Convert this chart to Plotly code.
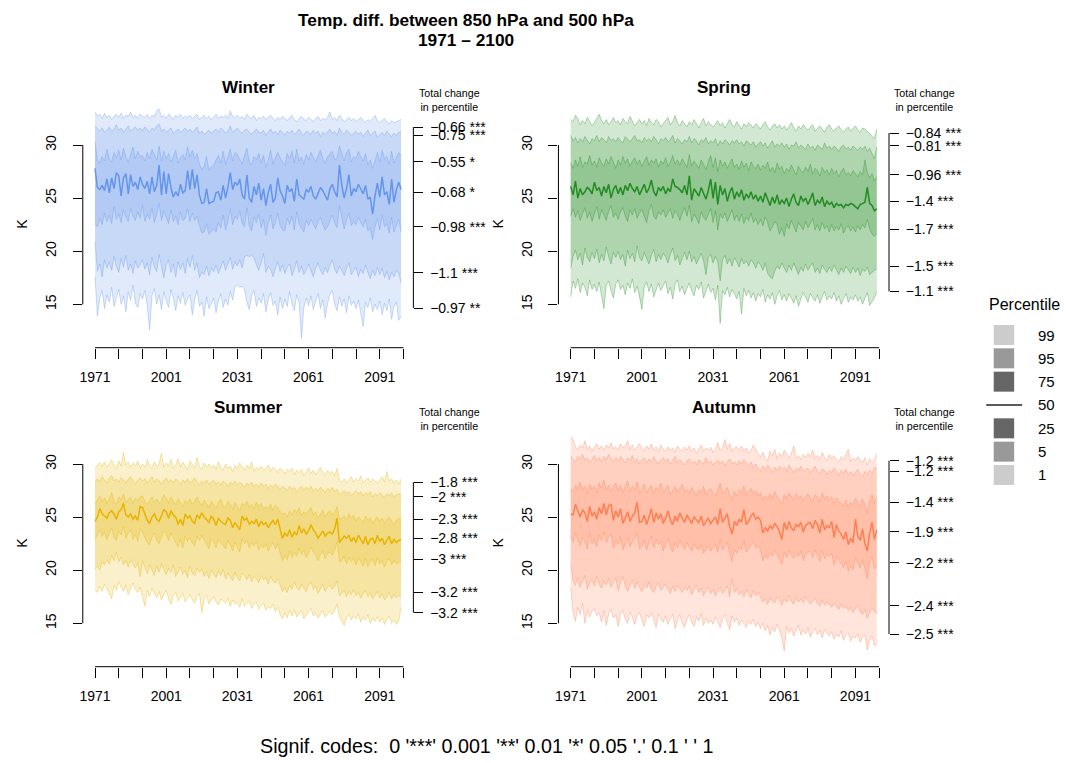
import plotly.graph_objects as go

years = list(range(1971, 2101))

# ---------------- Winter ----------------
winter_p99 = [33.1, 32.7, 32.9, 32.5, 33.0, 32.6, 32.8, 32.4, 32.7, 32.9,
              32.6, 33.0, 32.5, 32.8, 32.7, 33.1, 32.6, 32.8, 32.5, 32.9,
              32.7, 32.6, 32.9, 32.5, 32.8, 32.7, 33.2, 33.4, 32.6, 32.8,
              32.5, 32.9, 32.7, 32.4, 32.8, 32.6, 32.9, 32.5, 32.7, 32.6,
              32.8, 32.5, 32.7, 32.9, 32.4, 32.6, 32.8, 32.5, 32.7, 32.4,
              32.6, 32.9, 32.5, 32.7, 32.6, 32.8, 32.5, 33.2, 32.7, 32.6,
              32.8, 32.5, 32.7, 32.4, 32.9, 32.6, 32.5, 32.8, 32.3, 32.6,
              32.5, 32.7, 32.4, 32.6, 32.8, 32.5, 32.3, 32.6, 32.4, 32.7,
              32.5, 32.3, 32.6, 32.8, 32.4, 32.2, 32.5, 32.7, 32.4, 32.3,
              32.6, 32.4, 32.2, 32.5, 32.7, 32.3, 32.5, 32.4, 32.6, 33.1,
              32.4, 32.6, 32.3, 32.8, 32.5, 32.2, 32.4, 32.6, 32.3, 32.5,
              32.2, 32.4, 32.6, 32.3, 32.1, 32.4, 32.2, 32.5, 32.8, 32.3,
              32.1, 32.3, 32.5, 32.2, 32.0, 32.3, 32.1, 32.2, 32.3, 32.4]
winter_p95 = [31.8, 31.5, 31.3, 31.6, 31.2, 31.4, 31.7, 31.3, 31.5, 31.9,
              31.4, 31.6, 31.2, 31.5, 31.8, 31.3, 31.5, 31.7, 31.4, 31.6,
              31.3, 31.7, 31.5, 31.2, 31.6, 31.4, 31.8, 32.0, 31.3, 31.5,
              31.2, 31.4, 31.6, 31.1, 31.3, 31.5, 31.2, 31.4, 31.6, 31.3,
              31.5, 31.2, 31.4, 31.7, 31.1, 31.3, 31.0, 31.2, 31.4, 31.1,
              31.3, 31.5, 31.2, 31.6, 31.4, 31.1, 31.3, 31.8, 31.2, 31.4,
              31.6, 31.3, 31.1, 31.4, 31.5, 31.2, 31.0, 31.3, 31.5, 31.2,
              31.1, 31.4, 30.9, 31.2, 31.5, 31.1, 31.3, 31.0, 31.4, 31.2,
              30.9, 31.3, 31.1, 31.4, 31.0, 31.2, 31.5, 31.1, 30.9, 31.3,
              31.2, 31.0, 31.4, 31.1, 31.3, 30.8, 31.2, 31.0, 31.3, 31.5,
              31.1, 31.3, 30.9, 31.6, 31.2, 31.0, 31.4, 31.2, 30.9, 31.1,
              31.3, 31.0, 31.2, 30.8, 31.1, 31.4, 30.9, 31.1, 31.3, 30.7,
              31.0, 31.2, 30.9, 31.3, 31.0, 30.8, 31.1, 30.9, 31.2, 31.3]
winter_p75 = [30.3, 28.6, 28.3, 28.9, 28.5, 29.6, 28.7, 28.4, 29.3, 28.8,
              29.5, 28.6, 29.7, 28.9, 28.4, 29.1, 29.8, 28.7, 29.4, 28.9,
              29.0, 28.5, 29.3, 28.7, 29.6, 29.1, 28.6, 29.9, 28.5, 29.4,
              28.7, 29.2, 28.4, 28.9, 29.5, 28.3, 28.8, 29.1, 28.6, 29.8,
              28.9, 29.5, 28.7, 29.2, 28.2, 27.7, 28.0, 28.9, 27.6, 27.9,
              28.1, 28.6, 29.0, 28.3, 29.4, 28.2, 28.8, 29.6, 28.5, 29.3,
              29.1, 28.7, 28.2, 29.0, 29.7, 28.4, 28.1, 28.9, 28.6, 29.2,
              28.3, 29.0, 27.9, 28.6, 29.5, 28.2, 28.7, 29.3, 28.8, 28.4,
              28.1, 29.2, 28.7, 29.4, 28.3, 29.6, 28.5, 28.9, 28.2, 29.1,
              28.6, 29.3, 28.8, 28.4, 29.0, 29.5, 28.7, 28.3, 28.9, 29.2,
              29.4, 28.6, 28.8, 29.9, 29.1, 28.5, 29.3, 29.6, 28.4, 28.9,
              28.7, 29.4, 28.9, 28.5, 29.2, 28.1, 28.6, 27.8, 28.5, 29.3,
              28.4, 29.5, 28.7, 28.9, 28.2, 29.4, 28.3, 28.8, 29.3, 29.0]
winter_p50 = [27.8, 26.0, 25.8, 26.2, 25.7, 26.8, 25.5, 26.9, 25.9, 27.4,
              27.1, 25.2, 26.9, 27.3, 25.4, 27.2, 26.1, 26.5, 25.8, 27.0,
              26.3, 25.9, 26.6, 25.4, 27.0, 25.6, 26.2, 28.1, 25.3, 27.5,
              25.4, 27.3, 26.0, 25.1, 25.6, 25.2, 26.3, 25.5, 25.7, 27.6,
              25.8, 27.7, 25.9, 27.2, 25.3, 24.5, 24.6, 25.9, 24.5, 24.6,
              24.7, 25.5, 25.6, 24.8, 26.2, 25.0, 26.0, 27.4, 25.8, 26.5,
              26.2, 26.8, 25.3, 24.9, 27.2, 25.0, 24.6, 26.1, 25.3, 26.4,
              24.8, 25.9, 24.3, 25.5, 26.3, 24.6, 25.0, 26.9, 25.7, 25.2,
              24.5, 26.2, 25.6, 25.9, 24.7, 26.8, 25.3, 25.1, 24.9, 25.8,
              25.6, 26.1, 25.2, 24.9, 25.4, 26.0, 25.7, 25.3, 24.8, 25.9,
              26.3, 25.6, 25.1, 28.1, 26.2, 25.0, 25.9, 27.2, 25.2, 25.9,
              25.6, 26.3, 25.8, 25.4, 26.2, 24.9, 25.1, 23.5, 25.2, 26.4,
              25.1, 27.0, 25.3, 25.6, 24.4, 26.8, 24.6, 25.8, 26.5, 25.8]
winter_p25 = [22.6, 22.3, 23.1, 22.5, 23.6, 22.8, 23.4, 22.6, 24.2, 23.0,
              23.5, 22.7, 23.9, 23.2, 22.8, 24.0, 23.3, 22.9, 23.7, 23.1,
              24.3, 22.8, 23.5, 23.0, 24.1, 22.7, 23.4, 24.5, 22.9, 23.8,
              23.2, 22.6, 23.9, 22.8, 23.3, 22.5, 23.7, 22.9, 23.1, 24.0,
              22.8, 23.6, 22.9, 23.3, 22.4, 21.7, 21.8, 22.6, 21.6, 21.9,
              22.1, 21.8, 22.7, 22.2, 23.4, 22.0, 22.8, 24.0, 22.5, 23.3,
              23.0, 23.8, 22.6, 22.3, 24.1, 22.4, 21.9, 23.2, 22.7, 23.5,
              22.2, 23.0, 21.5, 22.6, 23.4, 22.1, 22.7, 23.6, 22.4, 22.0,
              21.9, 23.1, 22.5, 23.3, 22.0, 23.7, 22.6, 22.2, 21.8, 22.9,
              22.4, 23.0, 22.6, 22.1, 22.8, 23.2, 22.5, 22.0, 22.3, 22.9,
              23.4, 22.7, 22.2, 24.3, 23.0, 22.1, 22.9, 23.6, 22.4, 22.8,
              22.5, 23.2, 22.7, 22.3, 23.0, 21.9, 22.2, 21.1, 22.3, 23.1,
              22.0, 23.4, 22.3, 22.6, 21.7, 23.2, 21.8, 22.5, 23.0, 21.8]
winter_p05 = [20.9, 18.1, 18.8, 17.6, 19.2, 18.4, 19.0, 18.2, 19.5, 18.6,
              18.0, 19.3, 18.5, 19.6, 18.2, 18.8, 17.9, 19.1, 18.4, 18.7,
              19.2, 18.3, 18.9, 17.8, 19.4, 18.5, 18.1, 19.7, 18.6, 17.5,
              18.7, 19.2, 18.0, 18.8, 17.6, 19.0, 18.3, 18.9, 17.9, 19.3,
              18.5, 19.6, 18.2, 18.9, 17.5, 18.0, 17.8, 18.6, 17.7, 18.4,
              18.1, 18.7, 17.9, 18.5, 19.1, 18.2, 18.8, 19.4, 18.3, 19.0,
              18.6, 19.2, 18.4, 19.5, 19.6, 19.5, 19.6, 19.4, 18.7, 18.2,
              18.9, 19.8, 18.0, 18.6, 18.3, 17.6, 18.4, 19.0, 18.1, 18.7,
              17.9, 18.5, 18.8, 17.7, 18.3, 19.1, 18.0, 18.6, 17.8, 18.2,
              18.8, 18.1, 17.6, 18.4, 18.9, 18.2, 17.8, 18.5, 18.0, 18.7,
              19.2, 18.3, 17.9, 18.6, 18.1, 17.7, 18.4, 18.9, 17.8, 18.2,
              18.5, 17.6, 18.3, 17.9, 18.7, 18.0, 17.4, 18.2, 17.7, 18.5,
              17.8, 18.4, 17.5, 18.1, 17.3, 18.0, 17.6, 18.2, 17.9, 17.0]
winter_p01 = [17.6, 13.9, 15.6, 16.3, 14.6, 15.9, 15.2, 16.6, 14.8, 15.7,
              16.4, 15.0, 15.8, 14.3, 16.2, 15.4, 16.8, 15.1, 14.7, 16.0,
              15.5, 16.3, 14.9, 12.6, 15.8, 16.5, 15.0, 15.9, 14.5, 16.2,
              15.3, 14.7, 16.4, 15.6, 14.4, 15.8, 15.1, 16.1, 14.9, 15.5,
              15.9, 14.0, 15.4, 16.3, 14.8, 15.2, 13.9, 15.7, 14.6, 15.0,
              15.6, 14.2, 15.3, 16.0, 14.7, 15.5, 14.9, 16.2, 15.4, 16.7,
              16.8, 16.6, 16.7, 16.4, 15.2, 14.5, 15.8, 16.3, 14.8, 15.6,
              15.1, 16.0, 14.3, 15.4, 16.1, 14.9, 15.3, 14.0, 15.7, 14.6,
              15.5, 14.8, 16.2, 15.0, 14.4, 15.9, 15.2, 11.8, 14.7, 15.6,
              14.9, 15.8, 14.5, 15.3, 16.0, 14.6, 15.4, 13.7, 15.1, 15.9,
              16.3, 15.0, 14.4, 15.7, 14.8, 15.5, 14.2, 15.8, 14.9, 15.3,
              14.6, 15.4, 14.1, 12.9, 15.2, 14.7, 15.6, 14.3, 15.0, 14.5,
              15.3, 14.0, 15.1, 14.4, 15.5, 13.6, 14.8, 15.2, 13.5, 13.9]

# ---------------- Spring ----------------
spring_p99 = [32.4, 32.2, 32.8, 32.5, 31.9, 32.3, 32.0, 32.6, 32.2, 31.8,
              32.1, 32.5, 32.9, 32.3, 32.0, 32.4, 31.9, 32.2, 32.6, 32.1,
              32.3, 31.9, 32.5, 32.2, 32.0, 32.7, 32.3, 31.8, 32.1, 32.4,
              32.0, 32.3, 31.8, 32.5, 32.1, 31.9, 32.4, 32.2, 31.7, 32.0,
              32.3, 32.6, 31.9, 32.2, 32.8, 32.1, 31.8, 32.3, 32.0, 31.7,
              32.2, 31.9, 32.4, 32.0, 31.6, 32.1, 32.5, 31.8, 32.2, 31.9,
              31.7, 32.0, 32.3, 31.8, 32.1, 31.6, 32.0, 32.4, 31.9, 31.7,
              32.2, 31.8, 31.5, 32.0, 31.7, 32.1, 31.9, 31.6, 32.0, 31.8,
              31.5, 31.9, 32.2, 31.7, 31.4, 31.8, 32.0, 31.6, 31.9, 31.5,
              31.8, 31.4, 31.7, 32.1, 31.6, 31.3, 31.8, 31.5, 31.9, 31.6,
              31.4, 31.7, 31.9, 31.3, 31.6, 31.8, 31.5, 31.2, 31.7, 31.9,
              31.5, 31.3, 31.6, 31.8, 31.4, 31.2, 31.5, 31.7, 31.3, 31.6,
              31.8, 31.4, 31.2, 31.6, 31.5, 31.3, 31.1, 30.8, 30.6, 31.5]
spring_p95 = [30.9, 30.4, 30.7, 30.2, 30.6, 30.3, 30.8, 30.5, 30.1, 30.6,
              30.4, 30.9, 30.3, 30.7, 30.5, 30.2, 30.8, 30.4, 30.6, 30.3,
              30.7, 30.4, 30.2, 30.8, 30.5, 30.3, 30.6, 30.9, 30.4, 30.5,
              30.2, 30.7, 30.4, 30.6, 30.3, 30.8, 30.5, 30.1, 30.6, 30.4,
              30.7, 30.3, 30.5, 30.9, 30.2, 30.6, 30.4, 30.1, 30.5, 30.3,
              30.8, 30.2, 30.6, 30.4, 30.0, 30.5, 30.3, 30.7, 30.1, 30.4,
              30.2, 30.6, 29.9, 30.4, 30.1, 30.5, 30.3, 30.0, 30.4, 30.2,
              30.5, 30.1, 30.3, 29.9, 30.4, 30.2, 30.0, 30.3, 29.8, 30.1,
              30.3, 29.9, 30.2, 29.7, 30.0, 30.4, 29.8, 30.1, 29.9, 30.2,
              29.8, 30.1, 29.6, 30.0, 29.9, 30.3, 29.7, 30.0, 29.8, 29.6,
              30.1, 29.7, 29.9, 29.5, 30.0, 29.8, 29.6, 30.2, 29.7, 29.9,
              29.6, 29.9, 29.7, 29.4, 29.8, 30.0, 29.6, 29.8, 29.5, 29.9,
              29.7, 29.5, 29.8, 29.6, 29.9, 29.4, 29.7, 29.2, 28.7, 29.8]
spring_p75 = [28.3, 27.8, 28.6, 28.0, 28.9, 27.9, 28.4, 28.2, 29.0, 28.1,
              28.5, 27.9, 28.8, 28.3, 28.0, 28.7, 28.2, 28.9, 28.4, 27.8,
              28.6, 28.1, 28.9, 28.3, 28.7, 28.0, 28.5, 28.8, 28.2, 28.6,
              28.0, 28.4, 28.9, 28.1, 28.6, 28.3, 28.7, 27.9, 28.5, 28.2,
              28.8, 28.0, 28.4, 29.0, 28.2, 28.6, 28.1, 28.7, 28.3, 27.9,
              29.1, 28.0, 28.5, 28.2, 27.8, 28.6, 28.1, 27.7, 28.4, 29.0,
              27.9, 28.8, 27.5, 28.6, 28.0, 28.4, 27.8, 28.3, 28.7, 27.9,
              28.2, 27.7, 28.5, 27.9, 28.3, 27.6, 28.4, 28.0, 27.8, 28.2,
              27.6, 28.1, 27.8, 28.4, 27.5, 27.9, 27.4, 28.3, 27.7, 28.0,
              27.3, 27.8, 27.5, 28.1, 27.7, 27.2, 28.0, 27.6, 27.4, 27.9,
              27.5, 28.2, 27.3, 27.8, 27.6, 27.1, 27.9, 27.4, 27.7, 27.2,
              27.8, 27.3, 27.6, 27.0, 27.5, 27.8, 27.2, 27.4, 27.1, 27.6,
              27.3, 27.0, 27.5, 27.2, 28.6, 27.4, 26.9, 27.3, 26.6, 27.0]
spring_p50 = [26.1, 25.3, 26.6, 25.0, 25.9, 25.3, 25.6, 26.0, 25.8, 25.4,
              26.5, 25.7, 26.0, 25.2, 26.1, 25.5, 26.3, 25.0, 25.8, 26.2,
              25.4, 26.0, 25.3, 26.2, 25.7, 26.4, 25.9, 25.6, 26.1, 25.3,
              25.8, 26.3, 25.5, 25.9, 26.7, 25.6, 25.2, 26.0, 25.7, 26.1,
              25.4, 25.9, 25.6, 26.8, 26.1, 26.0, 25.8, 25.5, 26.2, 25.3,
              27.1, 24.8, 25.9, 25.6, 25.2, 26.0, 25.4, 24.9, 25.7, 26.8,
              25.0, 26.5, 24.4, 26.2, 25.3, 25.9, 24.7, 25.5, 26.0, 24.9,
              25.6, 25.1, 25.8, 24.8, 25.4, 25.0, 25.6, 24.9, 25.3, 24.7,
              25.2, 24.6, 25.5, 24.9, 24.3, 25.1, 24.5, 25.3, 24.4, 24.8,
              24.5, 25.0, 24.2, 24.9, 25.4, 24.6, 24.3, 25.2, 24.7, 25.0,
              24.4, 24.9, 25.5, 24.3, 24.8, 24.5, 25.1, 24.2, 24.7, 24.4,
              24.6, 24.1, 24.5, 24.3, 24.4, 24.1, 24.4, 24.3, 24.5, 24.4,
              24.2, 24.0, 24.4, 24.5, 24.6, 26.0, 24.5, 24.3, 23.8, 24.0]
spring_p25 = [23.3, 24.0, 23.2, 23.8, 22.9, 23.6, 24.1, 23.1, 23.7, 22.8,
              23.5, 24.2, 23.0, 23.9, 23.4, 22.9, 23.8, 24.3, 23.2, 23.6,
              23.0, 23.7, 24.1, 23.3, 22.8, 23.9, 23.4, 24.0, 23.1, 23.6,
              23.9, 23.2, 22.7, 23.8, 24.4, 23.3, 23.0, 23.7, 23.4, 23.9,
              23.2, 23.6, 24.0, 23.1, 23.8, 23.5, 22.9, 23.6, 24.1, 23.3,
              24.3, 22.8, 23.5, 23.1, 22.6, 23.7, 23.2, 22.9, 23.4, 24.0,
              22.7, 23.8, 22.0, 23.5, 23.1, 23.6, 22.8, 23.3, 23.9, 22.9,
              23.4, 22.8, 23.5, 22.6, 23.2, 22.9, 23.6, 22.7, 23.1, 22.5,
              23.0, 22.4, 23.2, 22.7, 21.9, 22.3, 22.8, 22.5, 21.6, 22.2,
              21.4, 22.6, 22.1, 22.9, 22.4, 21.8, 22.7, 22.3, 22.0, 22.8,
              22.2, 22.6, 23.1, 22.0, 22.5, 21.9, 22.7, 22.1, 22.4, 21.8,
              22.5, 21.9, 22.3, 22.0, 22.6, 21.7, 22.2, 22.4, 21.9, 22.3,
              21.8, 22.4, 22.0, 22.5, 22.2, 23.0, 22.1, 21.6, 21.4, 21.7]
spring_p05 = [18.4, 19.5, 20.1, 19.2, 19.8, 18.7, 20.3, 19.4, 19.0, 19.9,
              19.3, 20.2, 18.9, 19.7, 19.1, 20.4, 19.5, 18.8, 19.9, 19.4,
              20.0, 19.2, 19.7, 18.6, 20.1, 19.3, 19.8, 19.0, 20.5, 19.4,
              19.1, 19.9, 19.3, 18.8, 19.6, 20.2, 19.0, 19.7, 19.2, 19.8,
              19.5, 18.9, 19.7, 20.3, 19.1, 19.6, 18.7, 19.4, 19.9, 19.2,
              20.0, 19.0, 19.5, 18.8, 19.3, 19.8, 19.1, 17.8, 19.4, 19.7,
              18.9, 19.5, 19.0, 17.2, 19.2, 19.6, 18.8, 19.3, 18.6, 19.4,
              19.0, 18.5, 19.3, 18.8, 19.1, 18.6, 19.2, 18.9, 18.4, 19.0,
              18.7, 18.2, 18.9, 17.9, 17.6, 17.4, 18.1, 18.6, 18.3, 18.9,
              18.4, 18.0, 18.7, 18.2, 18.9, 18.3, 17.8, 18.5, 18.1, 18.8,
              18.2, 18.6, 18.9, 18.0, 18.4, 17.9, 18.7, 18.3, 18.0, 18.5,
              18.1, 18.7, 18.3, 17.8, 18.4, 18.0, 18.6, 18.2, 17.9, 18.5,
              18.0, 18.4, 17.7, 18.3, 18.1, 18.5, 17.8, 18.0, 18.2, 18.3]
spring_p01 = [15.7, 17.2, 16.5, 17.4, 16.1, 17.0, 16.6, 15.8, 17.3, 16.4,
              16.9, 16.2, 17.1, 15.9, 14.6, 16.8, 17.2, 16.3, 15.6, 16.9,
              17.3, 16.4, 16.8, 15.9, 17.0, 16.5, 17.4, 16.1, 16.7, 15.8,
              14.5, 16.6, 17.1, 16.2, 16.9, 15.7, 16.4, 17.0, 16.3, 16.8,
              17.2, 16.0, 16.6, 15.5, 16.9, 17.3, 16.2, 16.7, 15.9, 16.5,
              17.0, 16.3, 15.8, 16.8, 16.4, 17.1, 15.6, 16.2, 16.9, 16.1,
              16.5, 15.4, 16.8, 13.2, 16.3, 15.9, 16.6, 15.7, 16.4, 16.0,
              15.5, 16.2, 14.1, 16.5, 15.8, 16.3, 15.6, 16.1, 15.3, 16.0,
              15.7, 16.4, 15.2, 15.9, 15.5, 16.1, 15.0, 15.8, 16.3, 15.4,
              15.9, 15.3, 16.0, 15.6, 15.1, 15.8, 14.8, 15.5, 16.1, 15.7,
              15.2, 16.0, 15.6, 15.3, 15.9, 15.1, 15.7, 16.2, 15.4, 15.8,
              15.5, 16.1, 15.3, 15.8, 15.0, 15.6, 16.0, 15.2, 15.7, 15.4,
              15.9, 15.3, 15.7, 15.0, 15.5, 16.1, 14.9, 15.3, 15.6, 16.2]

# ---------------- Summer ----------------
summer_p99 = [29.5, 29.9, 30.1, 29.8, 30.2, 29.7, 30.0, 30.4, 29.9, 29.6,
              30.3, 29.8, 31.1, 29.9, 30.2, 29.7, 30.1, 29.8, 30.3, 29.6,
              30.0, 29.7, 30.4, 29.9, 29.6, 30.2, 29.8, 30.0, 31.0, 29.7,
              30.1, 29.8, 30.4, 29.6, 29.9, 30.5, 29.7, 30.2, 29.8, 29.5,
              30.3, 29.9, 29.6, 30.6, 29.8, 29.5, 30.1, 29.7, 30.0, 29.6,
              29.9, 29.5, 30.2, 29.7, 29.4, 30.0, 29.6, 29.8, 29.3, 29.9,
              29.5, 30.1, 29.7, 29.4, 29.9, 29.6, 30.2, 29.3, 29.7, 29.5,
              29.8, 29.4, 29.6, 29.9, 29.3, 29.7, 29.5, 29.2, 29.6, 29.4,
              29.1, 29.5, 29.3, 29.6, 29.0, 29.4, 29.2, 29.5, 28.9, 29.3,
              29.6, 29.1, 29.4, 29.0, 29.3, 29.7, 29.2, 28.9, 29.4, 29.1,
              29.3, 28.9, 29.6, 28.5, 28.3, 28.6, 28.2, 28.5, 28.8, 28.3,
              28.6, 28.4, 28.9, 28.2, 28.5, 28.7, 28.3, 28.6, 28.4, 28.2,
              28.5, 28.8, 28.3, 29.3, 28.4, 28.6, 28.2, 28.5, 28.1, 28.6]
summer_p95 = [28.3, 28.6, 28.4, 28.8, 28.5, 28.2, 28.7, 28.9, 28.4, 28.6,
              28.3, 28.7, 28.5, 28.2, 28.6, 28.8, 28.4, 28.1, 28.5, 28.7,
              28.4, 28.6, 28.2, 28.5, 28.8, 28.3, 28.6, 28.4, 28.1, 28.5,
              28.7, 28.3, 28.5, 28.2, 28.6, 28.4, 28.1, 28.5, 28.3, 28.6,
              28.2, 28.4, 28.7, 28.3, 28.0, 28.4, 28.2, 28.5, 28.1, 28.3,
              28.5, 28.1, 28.3, 28.0, 28.4, 28.2, 27.9, 28.3, 28.1, 28.4,
              28.0, 28.3, 28.1, 27.8, 28.2, 28.0, 28.3, 27.9, 28.1, 27.8,
              28.2, 27.9, 28.1, 27.7, 28.0, 27.8, 28.1, 27.9, 27.6, 27.9,
              27.7, 27.5, 27.9, 27.6, 27.8, 27.4, 27.7, 27.9, 27.5, 27.8,
              27.6, 27.9, 27.4, 27.7, 27.5, 27.8, 27.6, 27.3, 27.7, 27.5,
              27.8, 27.4, 27.6, 27.1, 27.3, 27.5, 27.2, 27.4, 27.0, 27.3,
              27.5, 27.2, 27.4, 27.0, 27.3, 27.1, 27.4, 26.9, 27.2, 27.0,
              27.3, 27.1, 26.8, 27.2, 27.0, 27.3, 26.9, 27.1, 27.2, 27.1]
summer_p75 = [26.2, 26.6, 27.0, 26.4, 26.8, 26.3, 26.7, 27.3, 26.5, 26.2,
              26.9, 26.6, 27.2, 26.4, 26.7, 26.9, 26.3, 26.8, 26.5, 26.9,
              27.0, 26.5, 26.2, 26.6, 26.9, 26.4, 26.7, 26.3, 26.5, 27.1,
              26.8, 26.3, 26.9, 26.5, 26.2, 26.7, 26.4, 26.0, 26.6, 26.3,
              26.7, 26.2, 26.5, 26.9, 26.4, 26.1, 26.6, 26.3, 25.9, 26.5,
              26.2, 25.8, 26.4, 26.7, 26.0, 25.9, 26.5, 26.2, 25.7, 26.4,
              26.0, 25.6, 26.3, 26.1, 26.5, 25.9, 26.2, 25.8, 26.4, 26.0,
              26.3, 25.7, 26.0, 25.8, 26.2, 25.6, 26.1, 25.9, 25.5, 25.3,
              25.4, 25.0, 25.6, 25.2, 25.7, 25.4, 25.9, 25.1, 25.5, 25.3,
              25.6, 25.9, 25.2, 25.5, 24.9, 25.3, 25.7, 25.0, 25.4, 25.6,
              25.2, 25.5, 26.0, 24.8, 24.9, 25.1, 24.7, 25.3, 24.9, 25.2,
              24.6, 25.0, 24.8, 24.5, 25.1, 24.7, 24.9, 24.4, 24.8, 25.0,
              24.6, 24.9, 24.5, 24.8, 25.0, 24.6, 24.3, 24.7, 24.9, 24.8]
summer_p50 = [24.6, 25.0, 25.8, 25.3, 25.1, 24.9, 25.4, 25.6, 25.3, 24.8,
              25.5, 25.7, 26.3, 25.2, 25.0, 25.3, 24.8, 25.1, 24.7, 26.0,
              25.9, 25.2, 24.7, 24.4, 25.0, 25.3, 24.8, 24.6, 25.1, 25.7,
              25.5, 24.9, 25.6, 25.2, 25.0, 24.3, 24.8, 24.2, 25.3, 24.9,
              25.1, 24.6, 24.4, 25.2, 24.9, 25.4, 25.0, 24.7, 24.5, 25.1,
              24.8, 24.2, 24.9, 24.6, 24.4, 24.3, 24.9, 24.7, 24.0, 24.5,
              24.2, 23.8, 25.1, 24.7, 24.9, 24.3, 24.6, 24.4, 24.8, 24.1,
              24.6, 24.3, 24.5, 24.0, 24.4, 24.7, 24.3, 24.8, 23.9, 23.0,
              23.5, 23.2, 23.8, 23.1, 23.6, 23.3, 24.2, 23.5, 23.9, 23.4,
              23.7, 24.3, 23.8, 23.5, 23.0, 23.4, 23.7, 23.2, 23.5, 23.6,
              23.4, 23.9, 24.9, 22.6, 22.9, 23.2, 23.0, 23.3, 22.7, 23.1,
              22.6, 23.3, 22.9, 22.5, 23.2, 22.4, 22.9, 23.0, 22.5, 23.3,
              22.7, 23.0, 22.4, 22.8, 23.2, 22.5, 22.9, 22.6, 22.8, 22.9]
summer_p25 = [22.9, 23.4, 23.8, 23.2, 23.6, 22.9, 23.5, 24.0, 23.1, 22.8,
              23.7, 23.3, 24.1, 23.0, 23.5, 23.8, 22.9, 23.4, 22.7, 23.9,
              23.6, 23.0, 22.6, 22.4, 23.1, 23.5, 22.8, 22.5, 23.2, 23.7,
              23.4, 22.8, 23.5, 23.0, 22.6, 22.2, 22.9, 22.1, 23.2, 22.7,
              23.1, 22.5, 22.3, 23.2, 22.8, 23.3, 22.9, 22.4, 22.0, 23.0,
              22.7, 22.1, 22.9, 22.5, 22.3, 22.0, 22.8, 22.4, 21.8, 22.6,
              22.2, 21.7, 23.0, 22.5, 22.8, 22.1, 22.6, 22.3, 22.7, 21.9,
              22.4, 22.1, 22.5, 21.8, 22.3, 22.6, 22.0, 22.5, 21.6, 20.9,
              21.4, 21.0, 21.8, 21.2, 21.7, 21.3, 22.1, 21.5, 21.9, 21.2,
              21.6, 22.2, 21.7, 21.4, 20.9, 21.5, 21.8, 21.1, 21.6, 21.7,
              21.4, 21.9, 22.7, 20.8, 20.9, 21.3, 20.6, 21.2, 20.8, 21.1,
              20.5, 21.2, 20.8, 20.4, 21.1, 20.3, 20.9, 21.0, 20.4, 21.2,
              20.6, 20.9, 20.3, 20.8, 21.1, 20.5, 20.9, 20.6, 20.7, 20.8]
summer_p05 = [20.1, 20.4, 20.0, 20.8, 20.5, 21.0, 20.6, 21.4, 20.9, 21.7,
              20.8, 21.2, 20.5, 20.9, 20.3, 21.0, 20.6, 20.2, 20.7, 19.4,
              20.9, 20.3, 19.7, 20.5, 20.0, 19.5, 20.4, 19.8, 20.6, 20.1,
              19.6, 20.2, 19.8, 20.5, 19.4, 19.9, 20.3, 19.6, 20.0, 19.3,
              20.4, 19.7, 19.5, 20.2, 19.8, 20.1, 19.4, 19.9, 19.2, 20.0,
              19.6, 19.3, 19.9, 19.5, 20.1, 19.2, 19.7, 19.4, 19.0, 19.8,
              19.3, 19.0, 19.7, 19.5, 19.1, 19.6, 18.9, 19.4, 19.2, 18.8,
              19.5, 19.1, 19.3, 18.7, 19.4, 19.0, 18.8, 19.2, 18.6, 18.0,
              18.4, 17.9, 18.6, 18.2, 18.9, 18.4, 18.1, 18.7, 18.3, 18.0,
              18.6, 18.9, 18.2, 18.5, 17.8, 18.3, 18.7, 18.0, 18.4, 18.6,
              18.2, 18.5, 19.0, 17.6, 17.8, 18.1, 17.5, 18.0, 17.7, 18.2,
              17.6, 17.9, 17.4, 17.8, 18.1, 17.5, 17.9, 17.3, 17.7, 18.0,
              17.4, 17.8, 17.2, 17.6, 17.9, 17.3, 17.7, 17.4, 17.6, 17.5]
summer_p01 = [18.2, 17.9, 18.5, 18.0, 18.7, 18.3, 17.8, 17.3, 18.6, 18.1,
              18.9, 18.4, 18.0, 18.6, 17.7, 18.3, 18.8, 18.2, 17.9, 18.4,
              17.6, 16.6, 18.1, 17.5, 18.3, 17.8, 17.4, 18.0, 17.2, 17.7,
              18.1, 17.3, 16.8, 17.6, 17.9, 17.1, 17.5, 17.8, 17.0, 17.4,
              17.7, 17.2, 16.9, 17.5, 17.8, 16.0, 17.3, 17.6, 16.8, 17.2,
              17.5, 17.0, 16.7, 17.3, 17.1, 16.9, 17.4, 16.6, 17.2, 16.8,
              17.0, 16.5, 17.3, 16.6, 16.9, 17.1, 16.4, 16.8, 17.0, 16.3,
              16.7, 16.9, 16.2, 16.6, 16.4, 16.8, 16.1, 16.5, 15.8, 15.4,
              16.0, 15.5, 16.2, 15.7, 16.3, 15.6, 15.9, 16.2, 15.4, 15.8,
              16.1, 16.4, 15.7, 16.0, 15.5, 15.9, 16.2, 15.6, 15.9, 16.1,
              15.8, 16.2, 16.8, 15.6, 15.2, 14.8, 15.5, 15.9, 15.3, 15.7,
              15.4, 15.9, 15.1, 15.6, 15.3, 15.8, 15.0, 15.5, 15.2, 15.6,
              15.1, 15.5, 14.9, 15.4, 15.7, 15.0, 15.3, 14.9, 15.2, 16.5]

# ---------------- Autumn ----------------
autumn_p99 = [32.6, 32.3, 31.6, 31.4, 31.8, 31.5, 32.2, 31.3, 31.7, 31.2,
              31.6, 31.9, 31.4, 31.7, 31.3, 31.8, 31.5, 32.0, 31.4, 31.6,
              31.3, 31.9, 31.5, 31.7, 32.2, 31.4, 31.8, 31.3, 31.6, 31.9,
              31.5, 31.2, 31.7, 31.4, 31.9, 31.3, 31.6, 31.1, 31.8, 31.4,
              31.2, 31.6, 31.3, 31.5, 31.1, 31.7, 31.4, 31.2, 31.6, 31.3,
              31.7, 31.2, 31.5, 31.0, 31.4, 31.8, 31.2, 31.5, 31.3, 31.6,
              31.1, 31.4, 32.0, 31.3, 31.5, 32.3, 31.4, 31.9, 31.2, 31.5,
              31.6, 31.3, 31.7, 31.2, 31.5, 31.0, 31.3, 31.8, 31.4, 30.9,
              30.7, 31.1, 30.6, 30.3, 31.2, 30.8, 31.4, 30.5, 31.0, 30.7,
              31.3, 30.9, 30.6, 31.0, 31.7, 30.5, 30.8, 30.4, 30.9, 30.6,
              31.0, 30.7, 31.3, 30.5, 30.8, 30.4, 31.1, 30.6, 30.3, 30.9,
              30.5, 30.8, 30.4, 30.2, 30.7, 30.4, 30.9, 31.4, 30.2, 30.6,
              30.3, 30.7, 30.4, 30.1, 30.6, 29.9, 30.5, 30.2, 30.4, 31.0]
autumn_p95 = [30.8, 30.4, 30.2, 30.7, 30.5, 30.9, 30.3, 30.6, 30.1, 30.5,
              30.8, 30.3, 30.6, 30.2, 30.7, 30.4, 30.9, 30.5, 30.2, 30.6,
              30.3, 30.7, 30.4, 30.1, 30.6, 30.3, 30.8, 30.2, 30.5, 30.0,
              30.4, 30.6, 30.1, 30.5, 30.2, 30.7, 30.3, 30.0, 30.4, 30.6,
              30.2, 30.5, 30.0, 30.3, 30.7, 30.1, 30.4, 30.2, 29.9, 30.3,
              30.5, 30.1, 30.3, 29.9, 30.4, 30.2, 30.0, 30.6, 30.1, 30.3,
              29.9, 30.2, 30.4, 30.0, 30.3, 29.8, 30.1, 30.5, 30.0, 30.2,
              29.9, 30.3, 30.0, 30.4, 30.1, 29.8, 30.2, 29.7, 30.0, 29.6,
              29.3, 29.8, 29.5, 29.9, 29.6, 29.2, 29.7, 29.4, 29.8, 29.5,
              29.7, 29.3, 29.9, 29.5, 29.2, 29.6, 29.4, 29.8, 29.3, 29.5,
              29.6, 29.2, 29.5, 29.8, 29.3, 29.1, 29.5, 29.4, 29.0, 29.4,
              29.2, 29.6, 29.3, 28.9, 29.4, 29.1, 29.5, 29.0, 29.3, 28.9,
              29.2, 29.5, 29.0, 28.8, 29.3, 29.0, 29.4, 29.1, 29.6, 29.7]
autumn_p75 = [27.7, 27.4, 28.0, 27.6, 28.3, 27.5, 27.9, 27.2, 28.1, 27.6,
              27.9, 27.3, 28.2, 27.7, 28.5, 27.6, 28.0, 27.4, 27.8, 28.2,
              27.5, 28.0, 27.3, 27.8, 28.4, 27.4, 27.9, 27.6, 28.3, 27.2,
              27.7, 28.1, 27.3, 27.6, 28.0, 27.2, 27.8, 27.5, 28.2, 27.4,
              27.6, 28.0, 27.1, 27.5, 27.9, 27.3, 27.7, 28.1, 27.4, 27.6,
              27.2, 27.8, 27.4, 27.0, 27.6, 27.3, 27.9, 27.1, 27.5, 27.7,
              27.3, 27.0, 27.6, 28.2, 27.2, 27.5, 27.8, 27.1, 26.6, 27.4,
              27.0, 27.6, 27.3, 27.9, 27.1, 27.4, 27.7, 27.2, 27.5, 27.0,
              27.3, 26.6, 27.0, 26.7, 27.2, 26.8, 27.4, 26.9, 26.5, 26.2,
              27.1, 26.7, 27.3, 26.9, 26.6, 27.2, 26.8, 27.0, 26.5, 26.9,
              27.2, 26.8, 26.5, 27.1, 26.9, 26.4, 27.3, 26.7, 27.0, 26.6,
              26.9, 26.3, 26.8, 26.5, 26.2, 26.0, 26.6, 25.9, 26.4, 26.1,
              26.8, 26.3, 26.0, 26.7, 26.2, 25.4, 26.5, 27.1, 26.3, 26.9]
autumn_p50 = [25.3, 25.2, 26.2, 25.6, 25.0, 25.7, 25.4, 24.6, 26.0, 25.1,
              25.5, 24.8, 25.9, 25.3, 26.3, 25.2, 26.1, 26.2, 24.7, 25.6,
              25.0, 25.8, 24.4, 24.9, 25.5, 24.6, 25.1, 25.4, 26.4, 24.5,
              24.6, 25.2, 24.3, 25.0, 25.8, 24.5, 25.4, 24.8, 25.3, 24.4,
              24.9, 25.6, 24.7, 24.3, 25.1, 24.6, 25.4, 24.9, 24.5, 25.2,
              24.8, 24.4, 25.0, 24.7, 24.5, 25.1, 24.2, 24.6, 24.9, 24.4,
              24.7, 25.0, 24.3, 25.8, 24.5, 24.9, 25.3, 24.1, 23.4, 24.6,
              24.2, 24.8, 24.5, 25.7, 24.3, 24.6, 25.1, 25.4, 24.8, 25.0,
              24.7, 23.5, 24.0, 23.7, 24.2, 23.9, 24.4, 24.1, 23.6, 22.9,
              24.5, 23.8, 24.6, 24.0, 23.7, 24.3, 24.1, 24.5, 23.6, 24.2,
              24.4, 24.5, 23.9, 24.7, 24.3, 23.5, 24.8, 23.8, 24.2, 24.0,
              24.6, 23.1, 24.3, 23.7, 23.4, 22.9, 23.6, 22.4, 23.0, 22.6,
              24.8, 23.2, 22.8, 23.9, 22.5, 21.8, 23.5, 24.5, 22.9, 23.8]
autumn_p25 = [23.2, 22.6, 23.5, 22.9, 22.3, 23.1, 22.7, 22.0, 23.4, 22.5,
              22.9, 22.2, 23.3, 22.8, 23.6, 22.6, 23.2, 23.4, 22.1, 22.8,
              22.4, 23.1, 21.9, 22.5, 23.0, 22.2, 22.7, 23.0, 23.5, 22.0,
              22.3, 22.8, 21.9, 22.6, 23.2, 22.1, 22.9, 22.4, 22.7, 21.8,
              22.5, 23.0, 22.2, 21.7, 22.6, 22.1, 22.8, 22.3, 22.0, 22.6,
              22.2, 21.8, 22.5, 22.1, 21.9, 22.4, 21.6, 22.0, 22.3, 21.8,
              22.1, 22.4, 21.7, 22.9, 21.9, 22.3, 22.6, 21.5, 20.8, 22.0,
              21.6, 22.2, 21.9, 22.8, 21.7, 22.0, 22.4, 22.6, 22.1, 22.3,
              21.9, 20.9, 21.4, 21.1, 21.6, 21.3, 21.8, 21.5, 21.0, 20.6,
              21.7, 21.2, 21.9, 21.4, 21.1, 21.6, 21.3, 21.8, 20.9, 21.5,
              21.7, 21.8, 21.2, 21.9, 21.5, 20.8, 21.9, 21.1, 21.5, 21.3,
              21.6, 20.5, 21.3, 20.9, 20.7, 20.2, 20.8, 19.9, 20.4, 20.1,
              21.2, 20.6, 20.2, 21.0, 20.0, 19.2, 20.7, 21.3, 20.1, 20.4]
autumn_p05 = [20.6, 19.0, 18.6, 19.3, 18.4, 18.9, 19.5, 18.2, 18.8, 19.1,
              18.5, 19.4, 18.7, 18.3, 19.0, 18.6, 19.2, 18.4, 18.9, 19.3,
              18.1, 18.8, 19.4, 18.5, 18.0, 18.7, 19.1, 18.3, 18.9, 18.4,
              18.0, 18.6, 18.3, 18.9, 18.2, 17.9, 18.5, 18.8, 18.1, 18.4,
              18.7, 18.2, 17.8, 18.5, 18.0, 18.6, 18.3, 17.9, 18.4, 18.1,
              18.5, 17.7, 18.2, 18.6, 17.9, 18.3, 17.6, 18.1, 18.4, 17.8,
              18.2, 17.6, 18.0, 18.4, 17.8, 18.1, 18.5, 17.5, 19.2, 17.9,
              18.3, 17.7, 18.0, 17.5, 18.2, 17.8, 17.4, 18.1, 17.6, 17.9,
              17.5, 17.0, 17.3, 16.8, 17.4, 17.1, 16.9, 17.5, 17.2, 16.7,
              17.3, 17.0, 17.6, 17.1, 16.8, 17.4, 17.0, 17.3, 16.9, 17.5,
              17.2, 16.8, 17.1, 17.4, 16.9, 16.6, 17.2, 16.7, 17.0, 16.8,
              16.5, 16.9, 16.6, 16.3, 16.8, 16.4, 16.7, 16.2, 16.5, 16.0,
              16.4, 16.7, 16.1, 15.8, 16.3, 15.5, 16.0, 16.4, 16.2, 15.9]
autumn_p01 = [18.4, 16.0, 15.2, 16.5, 15.8, 16.9, 15.0, 16.3, 15.6, 16.1,
              16.4, 15.7, 16.0, 15.1, 16.2, 14.8, 15.9, 16.3, 15.5, 15.8,
              14.7, 15.9, 16.2, 15.4, 15.0, 16.1, 15.6, 14.9, 15.7, 16.0,
              15.3, 14.7, 15.8, 15.5, 16.0, 15.2, 14.6, 15.9, 15.4, 15.1,
              15.7, 14.9, 15.5, 15.9, 14.5, 15.3, 15.8, 15.0, 14.6, 15.4,
              15.8, 15.1, 14.7, 15.6, 15.2, 15.9, 14.8, 15.5, 15.0, 15.3,
              14.9, 15.6, 15.2, 14.6, 15.4, 15.8, 15.0, 14.4, 15.7, 15.1,
              15.5, 14.8, 15.3, 15.0, 14.6, 15.2, 14.9, 15.4, 14.7, 15.1,
              14.5, 15.0, 14.3, 14.8, 13.9, 14.6, 14.2, 14.9, 14.4, 13.6,
              12.4, 14.7, 14.1, 14.5, 13.8, 14.3, 14.8, 13.9, 14.4, 14.0,
              14.6, 13.7, 14.2, 14.5, 13.9, 14.3, 13.6, 14.4, 14.1, 13.8,
              14.2, 13.5, 14.0, 13.7, 14.3, 13.4, 13.9, 14.1, 13.3, 13.8,
              13.6, 14.0, 13.2, 13.7, 13.9, 12.5, 13.4, 13.8, 12.9, 13.0]

# Total change in percentile (right-hand axis): label text and tick positions (K)
winter_change_text = ["\u22120.66 ***", "\u22120.75 ***", "\u22120.55 *", "\u22120.68 *",
                      "\u22120.98 ***", "\u22121.1 ***", "\u22120.97 **"]
winter_change_at = [31.69, 30.94, 28.40, 25.57, 22.28, 17.95, 14.65]
spring_change_text = ["\u22120.84 ***", "\u22120.81 ***", "\u22120.96 ***", "\u22121.4 ***",
                      "\u22121.7 ***", "\u22121.5 ***", "\u22121.1 ***"]
spring_change_at = [31.13, 29.91, 27.18, 24.68, 22.09, 18.56, 16.21]
summer_change_text = ["\u22121.8 ***", "\u22122 ***", "\u22122.3 ***", "\u22122.8 ***",
                      "\u22123 ***", "\u22123.2 ***", "\u22123.2 ***"]
summer_change_at = [28.28, 26.92, 24.79, 23.00, 21.03, 17.92, 16.00]
autumn_change_text = ["\u22121.2 ***", "\u22121.2 ***", "\u22121.4 ***", "\u22121.9 ***",
                      "\u22122.2 ***", "\u22122.4 ***", "\u22122.5 ***"]
autumn_change_at = [30.31, 29.34, 26.42, 23.60, 20.68, 16.63, 13.99]

x_tick_vals = list(range(1971, 2102, 10))
x_tick_labels = ["1971", "", "", "2001", "", "", "2031", "", "", "2061", "", "", "2091", ""]
y_tick_vals = [15, 20, 25, 30]
legend_labels = ["99", "95", "75", "50", "25", "5", "1"]

seasons = {
    "Winter": dict(p=[winter_p01, winter_p05, winter_p25, winter_p50, winter_p75, winter_p95, winter_p99],
                   txt=winter_change_text, at=winter_change_at, rgb=(100, 149, 237)),
    "Spring": dict(p=[spring_p01, spring_p05, spring_p25, spring_p50, spring_p75, spring_p95, spring_p99],
                   txt=spring_change_text, at=spring_change_at, rgb=(34, 139, 34)),
    "Summer": dict(p=[summer_p01, summer_p05, summer_p25, summer_p50, summer_p75, summer_p95, summer_p99],
                   txt=summer_change_text, at=summer_change_at, rgb=(232, 180, 0)),
    "Autumn": dict(p=[autumn_p01, autumn_p05, autumn_p25, autumn_p50, autumn_p75, autumn_p95, autumn_p99],
                   txt=autumn_change_text, at=autumn_change_at, rgb=(255, 127, 80)),
}
bad = [(n, i, len(a)) for n, s in seasons.items() for i, a in enumerate(s["p"]) if len(a) != len(years)]
assert not bad, bad

# ---------------- layout geometry (page pixels) ----------------
W, H = 1070, 763
OFF = 8                      # default body margin of the written page
FW, FH = W - OFF, H - OFF    # figure size so that it fills the window exactly
FONT = "Liberation Sans, Arial, Helvetica, sans-serif"


def px(x):
    return (x - OFF) / FW


def py(y):
    return 1 - (y - OFF) / FH


PX0, PX1 = 80.0, 411.5      # plot region, left/right (top-left panel)
PY0, PY1 = 100.0, 347.7     # plot region, top/bottom
X_RANGE = [1965.84, 2105.16]
Y_RANGE = [30 - (PY1 - 145.0) / 10.62, 30 + (145.0 - PY0) / 10.62]
offsets = {"Winter": (0, 0), "Spring": (477, 0), "Summer": (0, 319), "Autumn": (477, 319)}

fig = go.Figure()
layout = dict(width=FW, height=FH, margin=dict(l=0, r=0, t=0, b=0),
              paper_bgcolor="white", plot_bgcolor="white", showlegend=False,
              font=dict(family=FONT, color="black", size=14))
shapes, annotations = [], []


def rgba(c, a):
    return "rgba(%d,%d,%d,%.3f)" % (c[0], c[1], c[2], a)


for i, (name, s) in enumerate(seasons.items()):
    dx, dy = offsets[name]
    k = i + 1
    xs = "" if k == 1 else str(k)
    yl = "" if 2 * i + 1 == 1 else str(2 * i + 1)
    yr = str(2 * i + 2)
    xref, ylref, yrref = "x" + xs, "y" + yl, "y" + yr
    p01, p05, p25, p50, p75, p95, p99 = s["p"]
    c = s["rgb"]

    for lo, hi in [(p01, p99), (p05, p95), (p25, p75)]:
        fig.add_trace(go.Scatter(x=years + years[::-1], y=hi + lo[::-1], fill="toself",
                                 fillcolor=rgba(c, 0.2), line=dict(width=0), mode="lines",
                                 hoverinfo="skip", xaxis=xref, yaxis=ylref))
    for arr in [p99, p95, p75, p25, p05, p01]:
        fig.add_trace(go.Scatter(x=years, y=arr, mode="lines", line=dict(color=rgba(c, 0.33), width=1),
                                 hoverinfo="skip", xaxis=xref, yaxis=ylref))
    fig.add_trace(go.Scatter(x=years, y=p50, mode="lines", line=dict(color=rgba(c, 1), width=1.5),
                             xaxis=xref, yaxis=ylref))
    fig.add_trace(go.Scatter(x=[years[-1]], y=[s["at"][0]], mode="markers", marker=dict(opacity=0),
                             hoverinfo="skip", xaxis=xref, yaxis=yrref))

    xdom = [px(PX0 + dx), px(PX1 + dx)]
    ydom = [py(PY1 + dy), py(PY0 + dy)]
    layout["xaxis" + xs] = dict(domain=xdom, anchor=ylref, range=X_RANGE, showgrid=False, zeroline=False,
                                showline=False, ticks="outside", ticklen=10, tickwidth=1, tickcolor="black",
                                tickmode="array", tickvals=x_tick_vals, ticktext=x_tick_labels,
                                tickfont=dict(size=14), ticklabelstandoff=6)
    layout["yaxis" + yl] = dict(domain=ydom, anchor=xref, range=Y_RANGE, showgrid=False, zeroline=False,
                                showline=False, ticks="outside", ticklen=9, tickwidth=1, tickcolor="black",
                                tickmode="array", tickvals=y_tick_vals, tickangle=-90,
                                tickfont=dict(size=14), ticklabelstandoff=11)
    layout["yaxis" + yr] = dict(overlaying=ylref, anchor=xref, side="right", range=Y_RANGE, showgrid=False,
                                zeroline=False, showline=False, ticks="outside", ticklen=9, tickwidth=1,
                                tickcolor="black", tickmode="array", tickvals=s["at"], ticktext=s["txt"],
                                tickfont=dict(size=14), ticklabelstandoff=4)
    # R-style axis lines that span only the ticks
    shapes.append(dict(type="line", xref="paper", yref=ylref, x0=px(PX0 + dx), x1=px(PX0 + dx),
                       y0=min(y_tick_vals), y1=max(y_tick_vals), line=dict(color="black", width=1)))
    shapes.append(dict(type="line", xref="paper", yref=yrref, x0=px(PX1 + dx), x1=px(PX1 + dx),
                       y0=min(s["at"]), y1=max(s["at"]), line=dict(color="black", width=1)))
    shapes.append(dict(type="line", xref=xref, yref="paper", x0=min(x_tick_vals), x1=max(x_tick_vals),
                       y0=py(PY1 + dy), y1=py(PY1 + dy), line=dict(color="black", width=1)))

    annotations.append(dict(text="<b>%s</b>" % name, x=px((PX0 + PX1) / 2 + dx), y=py(88 + dy),
                            xref="paper", yref="paper", showarrow=False, font=dict(size=17),
                            xanchor="center", yanchor="middle"))
    annotations.append(dict(text="Total change<br>in percentile", x=px(447.5 + dx), y=py(99.5 + dy),
                            xref="paper", yref="paper", showarrow=False, font=dict(size=10.7),
                            xanchor="center", yanchor="middle"))
    annotations.append(dict(text="K", x=px(19 + dx), y=py((PY0 + PY1) / 2 + dy), textangle=-90,
                            xref="paper", yref="paper", showarrow=False, font=dict(size=14),
                            xanchor="center", yanchor="middle"))

# main title
annotations.append(dict(text="<b>Temp. diff. between 850 hPa and 500 hPa</b>", x=px(464), y=py(20),
                        xref="paper", yref="paper", showarrow=False, font=dict(size=17.3),
                        xanchor="center", yanchor="middle"))
annotations.append(dict(text="<b>1971 \u2013 2100</b>", x=px(464), y=py(40),
                        xref="paper", yref="paper", showarrow=False, font=dict(size=17.3),
                        xanchor="center", yanchor="middle"))
annotations.append(dict(text="Signif. codes:  0 '***' 0.001 '**' 0.01 '*' 0.05 '.' 0.1 ' ' 1",
                        x=px(485), y=py(746), xref="paper", yref="paper", showarrow=False,
                        font=dict(size=19.7), xanchor="center", yanchor="middle"))

# percentile legend
legend_greys = ["#cccccc", "#999999", "#666666", None, "#666666", "#999999", "#cccccc"]
annotations.append(dict(text="Percentile", x=px(1024), y=py(304), xref="paper", yref="paper",
                        showarrow=False, font=dict(size=16), xanchor="center", yanchor="middle"))
for j, (lab, g) in enumerate(zip(legend_labels, legend_greys)):
    yc = 335 + j * 23.33
    if g is None:
        shapes.append(dict(type="line", xref="paper", yref="paper", x0=px(986), x1=px(1022),
                           y0=py(yc), y1=py(yc), line=dict(color="#222222", width=1.5)))
    else:
        shapes.append(dict(type="rect", xref="paper", yref="paper", x0=px(993.5), x1=px(1014),
                           y0=py(yc + 10), y1=py(yc - 10), fillcolor=g, line=dict(width=0)))
    annotations.append(dict(text=lab, x=px(1036), y=py(yc), xref="paper", yref="paper", showarrow=False,
                            font=dict(size=15), xanchor="left", yanchor="middle"))

layout["shapes"] = shapes
layout["annotations"] = annotations
fig.update_layout(**layout)
fig.write_html("out.html")
